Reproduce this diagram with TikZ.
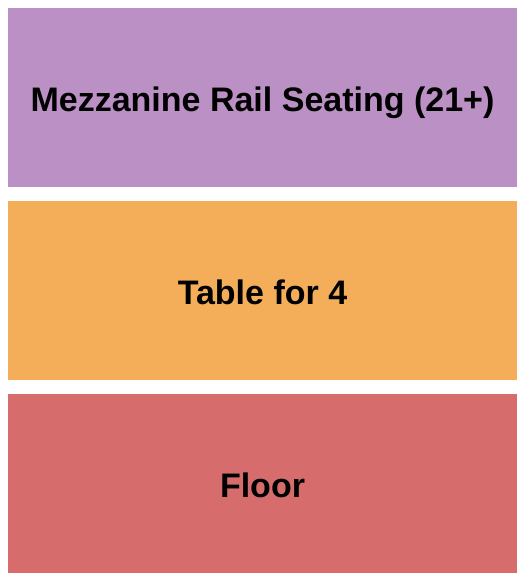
\documentclass[tikz,border=0pt]{standalone}
\usepackage{fontspec}
\setmainfont{Liberation Sans}
\usetikzlibrary{positioning}
\definecolor{mezzpurple}{HTML}{BB90C4}
\definecolor{tableorange}{HTML}{F4AE5A}
\definecolor{floorred}{HTML}{D76C6D}

\begin{document}
\begin{tikzpicture}[
                sectionnode/.style={rectangle, minimum width=509pt, minimum height=179pt, inner sep=0pt, outer sep=0pt, text height=28.5pt, text depth=0pt, font=\fontsize{34}{40}\selectfont\bfseries},
                purplesectionnode/.style={sectionnode, fill=mezzpurple},
                orangesectionnode/.style={sectionnode, fill=tableorange},
                redsectionnode/.style={sectionnode, fill=floorred},
                node distance=14pt,
                ]

                \useasboundingbox[fill=white] (0,0) rectangle (525pt,-580pt);

                \node[purplesectionnode, anchor=north west] (mezz) at (8pt,-8pt) {Mezzanine Rail Seating (21+)};
                \node[orangesectionnode, below=of mezz] (table) {Table for 4};
                \node[redsectionnode, below=of table] (floor) {Floor};
            \end{tikzpicture}
\end{document}
